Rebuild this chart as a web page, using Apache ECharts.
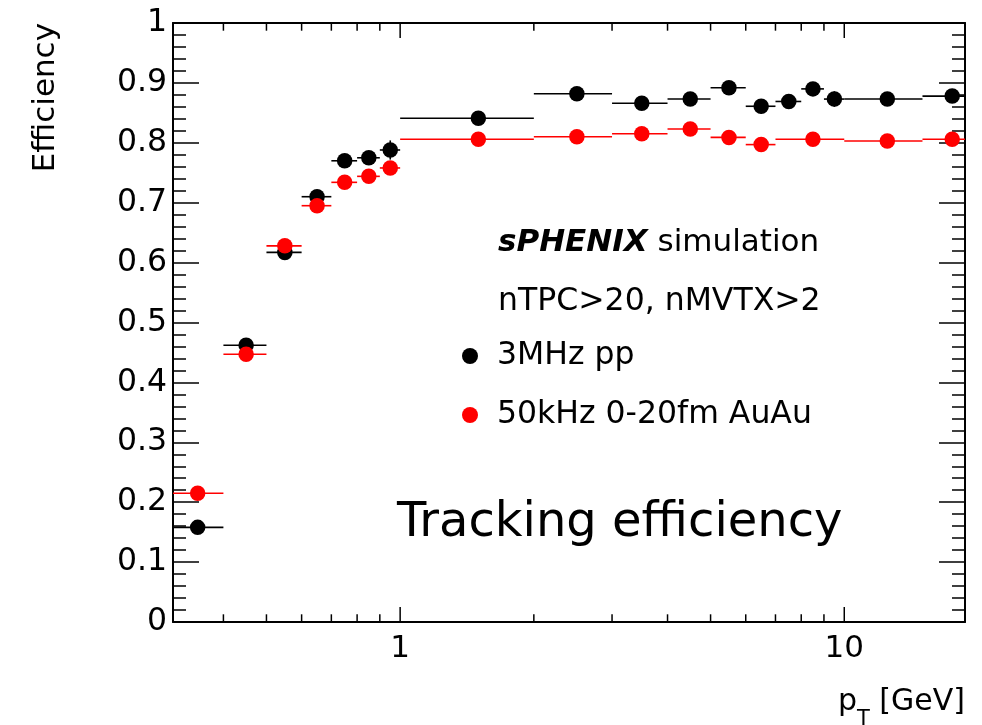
<!DOCTYPE html>
<html>
<head>
<meta charset="utf-8">
<title>Tracking efficiency</title>
<script src="https://cdn.jsdelivr.net/npm/echarts@6/dist/echarts.min.js"></script>
<style>
  html, body { margin: 0; padding: 0; background: #fff; }
  #chart { width: 982px; height: 725px; }
</style>
</head>
<body>
<div id="chart"></div>
<script>
// pT bins (GeV) and efficiencies
const binLoPP = [0.3, 0.4, 0.5, 0.6, 0.7, 0.8, 0.9, 1, 2, 3, 4, 5, 6, 7, 8, 9, 10, 15]
const binHiPP = [0.4, 0.5, 0.6, 0.7, 0.8, 0.9, 1, 2, 3, 4, 5, 6, 7, 8, 9, 10, 15, 20]
const effPP = [0.158, 0.462, 0.617, 0.710, 0.770, 0.775, 0.788, 0.841, 0.882, 0.866, 0.873, 0.892, 0.861, 0.869, 0.890, 0.873, 0.873, 0.878]
const errPP = [0.006, 0.008, 0.008, 0.008, 0.008, 0.008, 0.016, 0.005, 0.005, 0.005, 0.006, 0.008, 0.012, 0.008, 0.008, 0.013, 0.006, 0.008]

const binLoAuAu = [0.3, 0.4, 0.5, 0.6, 0.7, 0.8, 0.9, 1, 2, 3, 4, 5, 6, 7, 10, 15]
const binHiAuAu = [0.4, 0.5, 0.6, 0.7, 0.8, 0.9, 1, 2, 3, 4, 5, 6, 7, 10, 15, 20]
const effAuAu = [0.215, 0.447, 0.628, 0.695, 0.734, 0.744, 0.758, 0.806, 0.810, 0.815, 0.823, 0.809, 0.797, 0.806, 0.803, 0.806]
const errAuAu = [0.006, 0.006, 0.006, 0.006, 0.006, 0.006, 0.006, 0.004, 0.004, 0.004, 0.006, 0.006, 0.012, 0.005, 0.005, 0.006]

// x axis tick positions (log axis)
const xTicks = [0.4, 0.5, 0.6, 0.7, 0.8, 0.9, 1, 2, 3, 4, 5, 6, 7, 8, 9, 10]
const xMajor = [1, 10]

const FONT = 'DejaVu Sans'
let myChart = echarts.init(document.getElementById('chart'))

function points (lo, hi, eff) {
  return eff.map((v, i) => [(lo[i] + hi[i]) / 2, v])
}
function bars (lo, hi, eff, err) {
  return eff.map((v, i) => [lo[i], hi[i], v, err[i]])
}

// horizontal bin-width bar + vertical error bar
function errorBars (color) {
  return function (params, api) {
    let lo = api.value(0)
    let hi = api.value(1)
    let y = api.value(2)
    let e = api.value(3)
    let mid = (lo + hi) / 2
    let a = api.coord([lo, y])
    let b = api.coord([hi, y])
    let c = api.coord([mid, y - e])
    let d = api.coord([mid, y + e])
    let style = { stroke: color, lineWidth: 1.6 }
    return {
      type: 'group',
      children: [
        { type: 'line', shape: { x1: a[0], y1: a[1], x2: b[0], y2: b[1] }, style: style },
        { type: 'line', shape: { x1: c[0], y1: c[1], x2: d[0], y2: d[1] }, style: style }
      ]
    }
  }
}

// ticks on bottom and top of the frame
function xTickItem (params, api) {
  let v = api.value(0)
  let len = xMajor.indexOf(v) >= 0 ? 15 : 7.7
  let bot = api.coord([v, 0])
  let top = api.coord([v, 1])
  let style = { stroke: '#000', lineWidth: 1.5 }
  return {
    type: 'group',
    children: [
      { type: 'line', shape: { x1: bot[0], y1: bot[1], x2: bot[0], y2: bot[1] - len }, style: style },
      { type: 'line', shape: { x1: top[0], y1: top[1], x2: top[0], y2: top[1] + len }, style: style }
    ]
  }
}

let yAxisBase = {
  type: 'value',
  min: 0,
  max: 1,
  interval: 0.1,
  splitLine: { show: false },
  axisLine: { show: true, lineStyle: { color: '#000', width: 2 } },
  axisTick: { show: true, inside: true, length: 26, lineStyle: { color: '#000', width: 1.5 } },
  minorTick: { show: true, splitNumber: 5, length: 13, lineStyle: { color: '#000', width: 1.5 } }
}

let xAxisBase = {
  type: 'log',
  logBase: 10,
  min: 0.308,
  max: 18.7,
  splitLine: { show: false },
  axisLine: { show: true, onZero: false, lineStyle: { color: '#000', width: 2 } },
  axisTick: { show: false },
  minorTick: { show: false }
}

let option = {
  animation: false,
  textStyle: { fontFamily: FONT },
  grid: { left: 173, right: 17, top: 23, bottom: 103 },
  legend: {
    data: ['3MHz pp', '50kHz 0-20fm AuAu'],
    orient: 'vertical',
    left: 462,
    top: 340,
    padding: 0,
    itemGap: 27,
    itemWidth: 44,
    itemHeight: 16,
    icon: 'circle',
    selectedMode: false,
    textStyle: { fontFamily: FONT, fontSize: 31.5, lineHeight: 30, color: '#000' }
  },
  xAxis: [
    Object.assign({}, xAxisBase, {
      position: 'bottom',
      axisLabel: {
        show: true,
        color: '#000',
        fontSize: 31,
        fontFamily: FONT,
        margin: 11,
        showMinLabel: false,
        showMaxLabel: false
      }
    }),
    Object.assign({}, xAxisBase, {
      position: 'top',
      axisLabel: { show: false }
    })
  ],
  yAxis: [
    Object.assign({}, yAxisBase, {
      position: 'left',
      axisLabel: { color: '#000', fontSize: 31.5, fontFamily: FONT, margin: 6 }
    }),
    Object.assign({}, yAxisBase, {
      position: 'right',
      axisLabel: { show: false }
    })
  ],
  graphic: [
    {
      type: 'text',
      x: 46,
      y: 23,
      rotation: Math.PI / 2,
      style: { text: 'Efficiency', fontFamily: FONT, fontSize: 31, fill: '#000', align: 'right', verticalAlign: 'middle' }
    },
    {
      type: 'text',
      right: 17,
      top: 687,
      style: {
        text: '{a|p}{b|T}{a| [GeV]}',
        fill: '#000',
        rich: {
          a: { fontFamily: FONT, fontSize: 30, lineHeight: 30, verticalAlign: 'top', fill: '#000' },
          b: { fontFamily: FONT, fontSize: 21, lineHeight: 21, padding: [22, 0, 0, 0], verticalAlign: 'top', fill: '#000' }
        }
      }
    },
    {
      type: 'text',
      x: 498,
      y: 243,
      style: {
        text: '{b|sPHENIX}{n| simulation}',
        verticalAlign: 'middle',
        rich: {
          b: { fontFamily: FONT, fontSize: 31, fontWeight: 'bold', fontStyle: 'italic', fill: '#000' },
          n: { fontFamily: FONT, fontSize: 31, fill: '#000' }
        }
      }
    },
    {
      type: 'text',
      x: 498,
      y: 302,
      style: { text: 'nTPC>20, nMVTX>2', fontFamily: FONT, fontSize: 31.5, fill: '#000', verticalAlign: 'middle' }
    },
    {
      type: 'text',
      x: 397,
      y: 524,
      style: { text: 'Tracking efficiency', fontFamily: FONT, fontSize: 48, fill: '#000', verticalAlign: 'middle' }
    }
  ],
  series: [
    {
      name: 'xticks',
      type: 'custom',
      xAxisIndex: 0,
      yAxisIndex: 0,
      silent: true,
      clip: false,
      renderItem: xTickItem,
      data: xTicks.map(v => [v, 0]),
      z: 5
    },
    {
      name: 'ppBars',
      type: 'custom',
      silent: true,
      clip: true,
      renderItem: errorBars('#000'),
      encode: { x: [0, 1], y: 2 },
      data: bars(binLoPP, binHiPP, effPP, errPP),
      z: 2
    },
    {
      name: '3MHz pp',
      type: 'scatter',
      symbol: 'circle',
      symbolSize: 15.5,
      itemStyle: { color: '#000', opacity: 1 },
      data: points(binLoPP, binHiPP, effPP),
      z: 3
    },
    {
      name: 'auauBars',
      type: 'custom',
      silent: true,
      clip: true,
      renderItem: errorBars('#ff0000'),
      encode: { x: [0, 1], y: 2 },
      data: bars(binLoAuAu, binHiAuAu, effAuAu, errAuAu),
      z: 4
    },
    {
      name: '50kHz 0-20fm AuAu',
      type: 'scatter',
      symbol: 'circle',
      symbolSize: 15.5,
      itemStyle: { color: '#ff0000', opacity: 1 },
      data: points(binLoAuAu, binHiAuAu, effAuAu),
      z: 4
    }
  ]
}
myChart.setOption(option)
</script>
</body>
</html>
